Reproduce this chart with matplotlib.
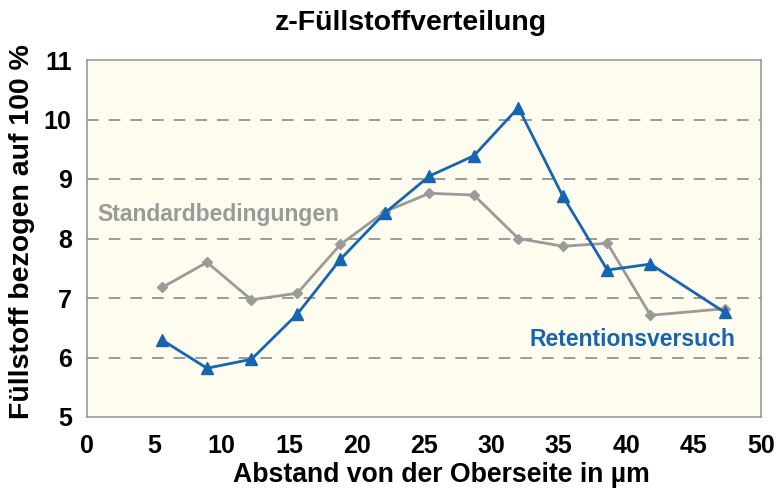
import matplotlib
matplotlib.use("Agg")
import matplotlib.pyplot as plt

plt.rcParams['font.family'] = ['Liberation Sans', 'DejaVu Sans']

x_std = [5.6, 8.9, 12.2, 15.6, 18.8, 22.1, 25.4, 28.7, 32.0, 35.3, 38.6, 41.8, 47.3]
y_std = [7.18, 7.60, 6.97, 7.08, 7.90, 8.45, 8.76, 8.73, 8.00, 7.87, 7.92, 6.71, 6.82]
x_ret = [5.6, 8.9, 12.2, 15.6, 18.8, 22.1, 25.4, 28.7, 32.0, 35.3, 38.6, 41.8, 47.3]
y_ret = [6.29, 5.82, 5.97, 6.73, 7.65, 8.43, 9.05, 9.39, 10.20, 8.71, 7.47, 7.57, 6.76]
x_ticks = [0, 5, 10, 15, 20, 25, 30, 35, 40, 45, 50]
y_ticks = [5, 6, 7, 8, 9, 10, 11]

blue = '#1565b0'
gray = '#9a9a9a'

fig = plt.figure(figsize=(7.79, 4.92), dpi=100)
ax = fig.add_axes([87/779, 1-417/492, (761-87)/779, (417-60)/492])
ax.set_facecolor('#fdfcee')

for yv in y_ticks[1:-1]:
    ax.axhline(yv, color='#8a8a8a', lw=1.2, dashes=(7, 6), zorder=1)

ax.plot(x_std, y_std, color=gray, lw=2, marker='D', ms=5.5, zorder=3)
ax.plot(x_ret, y_ret, color=blue, lw=2, marker='^', ms=8, zorder=4)

ax.set_xlim(0, 50)
ax.set_ylim(5, 11)
ax.set_xticks(x_ticks)
ax.set_yticks(y_ticks)
ax.tick_params(axis='both', length=0, labelsize=18)
ax.tick_params(axis='x', pad=12)
ax.tick_params(axis='y', pad=11)
for lab in ax.get_xticklabels() + ax.get_yticklabels():
    lab.set_fontweight('bold')
for s in ax.spines.values():
    s.set_color('#999999')
    s.set_linewidth(1.2)

fig.text(441/779, 1-482/492, 'Abstand von der Oberseite in µm', ha='center', va='baseline',
         fontsize=19.2, fontweight='bold')
fig.text(22/779, 1-232/492, 'Füllstoff bezogen auf 100 %', rotation=90, ha='center', va='center',
         fontsize=20.5, fontweight='bold')
fig.text(411/779, 1-23/492, 'z-Füllstoffverteilung', ha='center', va='center', fontsize=20.5, fontweight='bold')

ax.text(0.8, 8.4, 'Standardbedingungen', color=gray, fontsize=16.5, fontweight='bold', va='center')
ax.text(48.1, 6.3, 'Retentionsversuch', color=blue, fontsize=16.5, fontweight='bold', va='center', ha='right')

fig.savefig('out.png', dpi=100)
